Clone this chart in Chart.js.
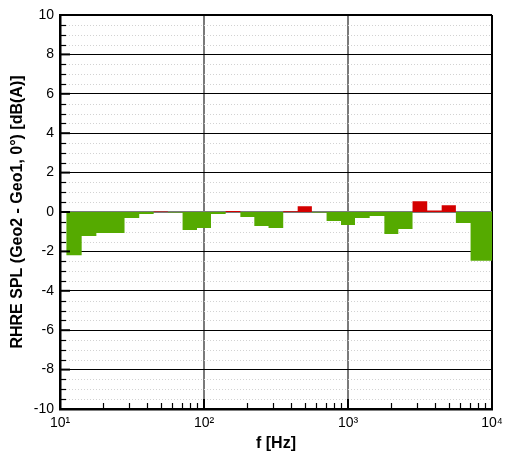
<!DOCTYPE html>
<html><head><meta charset="utf-8">
<script src="https://cdn.jsdelivr.net/npm/chart.js@4"></script>
<style>html,body{margin:0;padding:0;background:#fff}</style>
</head><body>
<canvas id="c" width="505" height="462"></canvas>
<script>
// third-octave band centre frequencies [Hz]
const bandCenters = [12.5, 16, 20, 25, 31.5, 40, 50, 63, 80, 100, 125, 160, 200, 250, 315, 400, 500, 630, 800, 1000, 1250, 1600, 2000, 2500, 3150, 4000, 5000, 6300, 8000, 10000];
// RHRE SPL difference Geo2 - Geo1 [dB(A)]
const deltaSPL = [-2.2, -1.22, -1.07, -1.07, -0.3, -0.1, 0.03, -0.03, -0.91, -0.81, -0.1, 0.05, -0.25, -0.71, -0.81, 0.04, 0.29, -0.03, -0.46, -0.66, -0.3, -0.2, -1.12, -0.86, 0.54, 0.08, 0.34, -0.56, -2.47, -2.47];
const xDecades = [10, 100, 1000, 10000];
const xDecadeLabels = ['10\u00B9', '10\u00B2', '10\u00B3', '10\u2074'];
const yMajorTicks = [-10, -8, -6, -4, -2, 0, 2, 4, 6, 8, 10];
const xMinorTicks = [20, 30, 40, 50, 60, 70, 80, 90, 200, 300, 400, 500, 600, 700, 800, 900, 2000, 3000, 4000, 5000, 6000, 7000, 8000, 9000];
const yMinorTicks = [];
for (let v = -9.5; v < 10; v += 0.5) { if (Math.abs(v % 2) > 1e-9) yMinorTicks.push(v); }

const FONT = '"Liberation Sans", Arial, Helvetica, sans-serif';
const n = bandCenters.length;
const edges = bandCenters.map((c, i) => i === 0 ? c / Math.sqrt(bandCenters[1] / c) : Math.sqrt(bandCenters[i - 1] * c));
const lastUpper = bandCenters[n - 1] * Math.sqrt(bandCenters[n - 1] / bandCenters[n - 2]);
function stepPoints(sel) {
  const pts = bandCenters.map((c, i) => ({ x: edges[i], y: sel(deltaSPL[i]) }));
  pts.push({ x: lastUpper, y: sel(deltaSPL[n - 1]) });
  return pts;
}

const decor = {
  id: 'decor',
  beforeDatasetsDraw(chart) {
    const { ctx, chartArea: a, scales: { y } } = chart;
    ctx.save();
    ctx.strokeStyle = '#d2d2d2';
    ctx.lineWidth = 1;
    ctx.setLineDash([1, 2]);
    yMinorTicks.forEach(v => {
      const py = Math.round(y.getPixelForValue(v)) + 0.5;
      ctx.beginPath(); ctx.moveTo(a.left, py); ctx.lineTo(a.right, py); ctx.stroke();
    });
    ctx.restore();
  },
  afterDraw(chart) {
    const { ctx, chartArea: a, scales: { x, y } } = chart;
    ctx.save();
    ctx.strokeStyle = '#000';
    const seg = (x1, y1, x2, y2, w) => { ctx.lineWidth = w; ctx.beginPath(); ctx.moveTo(x1, y1); ctx.lineTo(x2, y2); ctx.stroke(); };
    yMajorTicks.forEach(v => { const p = y.getPixelForValue(v); seg(a.left, p, a.left + 10, p, 2); });
    yMinorTicks.forEach(v => { const p = Math.round(y.getPixelForValue(v)) + 0.5; seg(a.left, p, a.left + 6, p, 1.2); });
    xDecades.forEach(v => { const p = x.getPixelForValue(v); seg(p, a.bottom, p, a.bottom - 10, 2); });
    xMinorTicks.forEach(v => { const p = Math.round(x.getPixelForValue(v)) + 0.5; seg(p, a.bottom, p, a.bottom - 6, 1.2); });
    ctx.restore();
  }
};

new Chart(document.getElementById('c'), {
  type: 'line',
  data: {
    datasets: [
      { data: stepPoints(v => Math.min(v, 0)), stepped: true, fill: 'origin', backgroundColor: '#55aa00', borderColor: 'rgba(0,0,0,0)', borderWidth: 0, pointRadius: 0 },
      { data: stepPoints(v => Math.max(v, 0)), stepped: true, fill: 'origin', backgroundColor: '#d40000', borderColor: 'rgba(0,0,0,0)', borderWidth: 0, pointRadius: 0 }
    ]
  },
  options: {
    responsive: false,
    animation: false,
    devicePixelRatio: 1,
    layout: { padding: { left: 0, right: 13, top: 15, bottom: 0 } },
    plugins: { legend: { display: false }, tooltip: { enabled: false } },
    scales: {
      x: {
        type: 'logarithmic', min: 10, max: 10000, z: 1,
        afterBuildTicks: s => { s.ticks = xDecades.map(v => ({ value: v })); },
        afterFit: s => { s.height = 53; s.paddingLeft = 0; s.paddingRight = 0; },
        ticks: {
          autoSkip: false, maxRotation: 0, padding: 6, color: '#000',
          font: { family: FONT, size: 14 },
          callback: v => { const i = xDecades.indexOf(v); return i >= 0 ? xDecadeLabels[i] : ''; }
        },
        grid: {
          drawTicks: false,
          color: c => c.tick.value === 10 ? 'rgba(0,0,0,0)' : (c.tick.value === 10000 ? '#000' : '#7a7a7a'),
          lineWidth: 2
        },
        border: { display: true, color: '#000', width: 2.5 },
        title: { display: true, text: 'f [Hz]', color: '#000', font: { family: FONT, size: 16, weight: 'bold' }, padding: { top: 0, bottom: 9 } }
      },
      y: {
        type: 'linear', min: -10, max: 10, z: 1,
        afterFit: s => { s.width = 60; s.paddingTop = 0; s.paddingBottom = 0; },
        ticks: {
          stepSize: 2, padding: 6, color: '#000',
          font: { family: FONT, size: 14 },
          callback: v => String(v)
        },
        grid: {
          drawTicks: false,
          color: c => c.tick.value === -10 ? 'rgba(0,0,0,0)' : (c.tick.value === 0 ? '#7a7a7a' : '#000'),
          lineWidth: c => c.tick.value === 10 ? 2 : (c.tick.value === 0 ? 2 : 1)
        },
        border: { display: true, color: '#000', width: 2.5 },
        title: { display: true, text: 'RHRE SPL (Geo2 - Geo1, 0\u00B0) [dB(A)]', color: '#000', font: { family: FONT, size: 16, weight: 'bold' }, padding: { top: 8, bottom: 0 } }
      }
    }
  },
  plugins: [decor]
});
</script>
</body></html>
